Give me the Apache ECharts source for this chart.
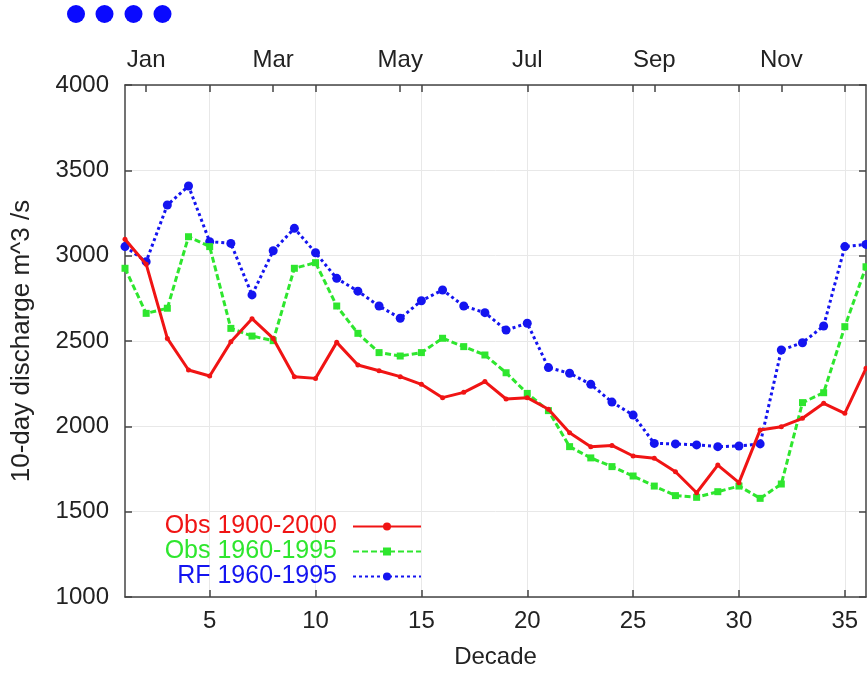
<!DOCTYPE html>
<html><head><meta charset="utf-8">
<script src="https://cdn.jsdelivr.net/npm/echarts@6/dist/echarts.min.js"></script>
<style>html,body{margin:0;padding:0;background:#fff}#c{width:867px;height:675px}</style>
</head><body><div id="c"></div>
<script>
const decades = [1,2,3,4,5,6,7,8,9,10,11,12,13,14,15,16,17,18,19,20,21,22,23,24,25,26,27,28,29,30,31,32,33,34,35,36];
const obs1900 = [3096,2950,2515,2330,2295,2495,2631,2515,2291,2281,2492,2359,2326,2291,2246,2168,2199,2262,2160,2168,2100,1963,1881,1888,1826,1813,1734,1611,1773,1670,1979,1998,2047,2135,2076,2340];
const obs1960 = [2926,2662,2692,3111,3053,2574,2529,2502,2926,2959,2705,2545,2432,2412,2432,2516,2467,2418,2314,2193,2092,1881,1815,1764,1709,1650,1594,1584,1617,1650,1578,1662,2139,2197,2584,2935];
const rf1960 = [3053,2965,3297,3408,3082,3072,2770,3029,3160,3017,2867,2792,2705,2633,2736,2799,2705,2666,2564,2604,2344,2311,2246,2142,2066,1900,1897,1891,1881,1885,1897,2447,2490,2588,3053,3066];
const seriesNames = ['Obs 1900-2000','Obs 1960-1995','RF 1960-1995'];
const seriesColors = ['#f01414','#2ee62e','#1414f0'];
const bottomTicks = [5,10,15,20,25,30,35];
const monthPos = [2,8,14,20,26,32];
const monthLabels = ['Jan','Mar','May','Jul','Sep','Nov'];
const topTicks = [2,5,8,10,14,15,20,25,26,30,32,35];

const FONT = '"Liberation Sans", Arial, Helvetica, sans-serif';
const axisLine = {show:true, lineStyle:{color:'#444', width:1.5}};
const tick = {show:true, inside:true, length:7, lineStyle:{color:'#444', width:1.5}};

function pairs(vals){ return decades.map((d,i)=>[d, vals[i]]); }

const chart = echarts.init(document.getElementById('c'), null, {renderer:'canvas'});
const option = {
  animation:false,
  backgroundColor:'#fff',
  textStyle:{fontFamily:FONT},
  grid:{left:125, top:85, width:741, height:512, containLabel:false},
  xAxis:[
    {type:'value', position:'bottom', min:1, max:36,
     axisLine, axisTick:Object.assign({customValues:bottomTicks}, tick),
     axisLabel:{customValues:bottomTicks, fontSize:24, color:'#222', margin:12, fontFamily:FONT},
     splitLine:{show:true, lineStyle:{color:'#e8e8e8', width:1}},
     name:'Decade', nameLocation:'middle', nameGap:48,
     nameTextStyle:{fontSize:24, color:'#222', fontFamily:FONT}},
    {type:'value', position:'top', min:1, max:36,
     axisLine, axisTick:Object.assign({customValues:topTicks}, tick),
     axisLabel:{customValues:monthPos, fontSize:24, color:'#222', margin:13, fontFamily:FONT,
       formatter:v=>{const k=monthPos.indexOf(Math.round(v)); return k>=0?monthLabels[k]:'';}},
     splitLine:{show:false}}
  ],
  yAxis:[
    {type:'value', position:'left', min:1000, max:4000, interval:500,
     axisLine, axisTick:tick,
     axisLabel:{fontSize:24, color:'#222', margin:16, fontFamily:FONT, formatter:v=>String(v)},
     splitLine:{show:true, lineStyle:{color:'#e8e8e8', width:1}},
     name:'10-day discharge m^3 /s', nameLocation:'middle', nameGap:90,
     nameTextStyle:{fontSize:26, color:'#222', fontFamily:FONT}},
    {type:'value', position:'right', min:1000, max:4000, interval:500,
     axisLine, axisTick:tick, axisLabel:{show:false}, splitLine:{show:false}}
  ],
  legend: seriesNames.map((n,i)=>({
    data:[{name:n, textStyle:{color:seriesColors[i]}}],
    right:445, top:514+i*25, align:'right', orient:'vertical',
    itemWidth:68, itemHeight:10, padding:0,
    textStyle:{fontSize:25, fontFamily:FONT, color:seriesColors[i], padding:[0,11,0,0], lineHeight:24}
  })),
  series:[
    {name:seriesNames[0], type:'line', data:pairs(obs1900), color:seriesColors[0],
     symbol:'circle', symbolSize:5, lineStyle:{width:3, color:seriesColors[0]},
     itemStyle:{color:seriesColors[0]}, z:5},
    {name:seriesNames[1], type:'line', data:pairs(obs1960), color:seriesColors[1],
     symbol:'rect', symbolSize:7, lineStyle:{width:3, type:[6,3], color:seriesColors[1]},
     itemStyle:{color:seriesColors[1]}, z:4},
    {name:seriesNames[2], type:'line', data:pairs(rf1960), color:seriesColors[2],
     symbol:'circle', symbolSize:9, lineStyle:{width:3, type:[3,3], color:seriesColors[2]},
     itemStyle:{color:seriesColors[2]}, z:3}
  ],
  graphic:[76,104.5,133.5,162.5].map(x=>({type:'circle', shape:{cx:x, cy:14, r:9}, style:{fill:'#0a0aff'}}))
};
chart.setOption(option);
</script>
</body></html>
